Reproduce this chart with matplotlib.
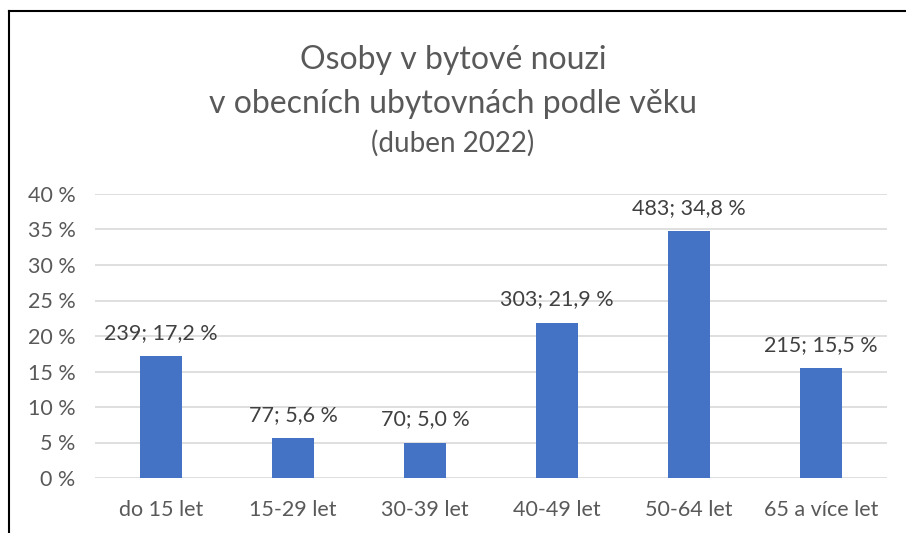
import matplotlib
matplotlib.use("Agg")
import matplotlib.pyplot as plt
from matplotlib.lines import Line2D

categories = ["do 15 let", "15-29 let", "30-39 let", "40-49 let", "50-64 let", "65 a více let"]
counts = [239, 77, 70, 303, 483, 215]
percents = [17.2, 5.6, 5.0, 21.9, 34.8, 15.5]
yticks = [0, 5, 10, 15, 20, 25, 30, 35, 40]

plt.rcParams['font.family'] = ['Lato', 'DejaVu Sans']
txt = '#595959'

fig = plt.figure(figsize=(9.06, 5.33), dpi=100)
ax = fig.add_axes([95/906, 55/533, 792/906, 284/533])

x = list(range(len(categories)))
ax.bar(x, percents, width=0.32, color='#4472C4', zorder=3)
for xi, c, p in zip(x, counts, percents):
    ax.annotate(f"{c}; {p:.1f} %".replace('.', ','), (xi, p), xytext=(0, 9.5),
                textcoords='offset points', ha='center', va='bottom',
                fontsize=15.5, color='#404040')

ax.set_xlim(-0.5, len(categories) - 0.5)
ax.set_ylim(0, 40)
ax.set_yticks(yticks)
ax.set_yticklabels([f"{t} %" for t in yticks])
ax.set_xticks(x)
ax.set_xticklabels(categories)
ax.tick_params(axis='both', length=0, labelsize=15.5, labelcolor=txt)
ax.tick_params(axis='y', pad=14)
ax.tick_params(axis='x', pad=16)
ax.grid(axis='y', color='#D9D9D9', linewidth=1.2, zorder=0)
for s in ax.spines.values():
    s.set_visible(False)

fig.text(0.5, 1 - 60/533, "Osoby v bytové nouzi", ha='center', va='center', fontsize=23, color=txt)
fig.text(0.5, 1 - 104/533, "v obecních ubytovnách podle věku", ha='center', va='center', fontsize=23, color=txt)
fig.text(0.5, 1 - 143/533, "(duben 2022)", ha='center', va='center', fontsize=20, color=txt)

fig.add_artist(Line2D([9/906, 9/906], [0, 1 - 11/533], color='black', linewidth=1.5, transform=fig.transFigure))
fig.add_artist(Line2D([9/906, 1], [1 - 11/533, 1 - 11/533], color='black', linewidth=1.5, transform=fig.transFigure))

fig.savefig("out.png", dpi=100)
